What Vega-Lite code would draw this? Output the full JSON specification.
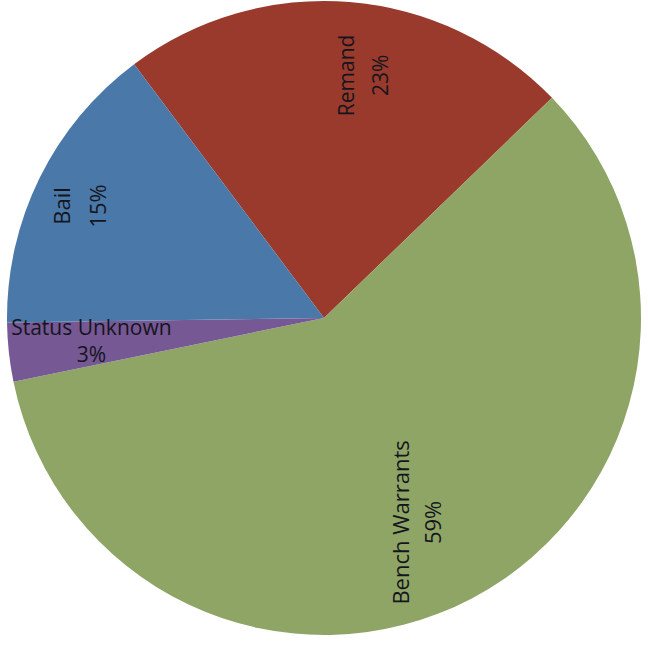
{
  "$schema": "https://vega.github.io/schema/vega-lite/v6.json",
  "width": 648,
  "height": 649,
  "autosize": {"type": "fit", "contains": "padding"},
  "padding": {"top": 0, "left": 0, "right": 0, "bottom": 13},
  "background": "#ffffff",
  "view": {"stroke": null},
  "data": {
    "values": [
      {"category": "Remand", "label": "Remand\n23%", "value": 23, "rank": 1},
      {"category": "Bench Warrants", "label": "Bench Warrants\n59%", "value": 59, "rank": 2},
      {"category": "Status Unknown", "label": "Status Unknown\n3%", "value": 3, "rank": 3},
      {"category": "Bail", "label": "Bail\n15%", "value": 15, "rank": 4}
    ]
  },
  "encoding": {
    "theta": {
      "field": "value",
      "type": "quantitative",
      "stack": true,
      "scale": {"range": [-0.6423, 5.6409]}
    },
    "order": {"field": "rank", "type": "quantitative", "sort": "ascending"}
  },
  "layer": [
    {
      "mark": {"type": "arc", "outerRadius": 317, "stroke": null},
      "encoding": {
        "color": {
          "field": "category",
          "type": "nominal",
          "scale": {
            "domain": ["Remand", "Bench Warrants", "Status Unknown", "Bail"],
            "range": ["#9a3a2c", "#8fa566", "#765894", "#4a78a8"]
          },
          "legend": null
        }
      }
    },
    {
      "mark": {"type": "text", "radius": 246, "thetaOffset": 0.087, "angle": 270, "dy": -17, "font": "Open Sans", "fontSize": 21, "lineBreak": "\n", "lineHeight": 34, "align": "center", "baseline": "middle", "color": "#15151d"},
      "encoding": {
        "text": {"condition": {"test": "datum.category == 'Remand'", "field": "label"}, "value": ""}
      }
    },
    {
      "mark": {"type": "text", "radius": 225, "thetaOffset": 0.054, "angle": 270, "dy": -16, "font": "Open Sans", "fontSize": 22, "lineBreak": "\n", "lineHeight": 32, "align": "center", "baseline": "middle", "color": "#15151d"},
      "encoding": {
        "text": {"condition": {"test": "datum.category == 'Bench Warrants'", "field": "label"}, "value": ""}
      }
    },
    {
      "mark": {"type": "text", "radius": 268, "thetaOffset": -0.026, "angle": 270, "dy": -18, "font": "Open Sans", "fontSize": 22, "lineBreak": "\n", "lineHeight": 36, "align": "center", "baseline": "middle", "color": "#15151d"},
      "encoding": {
        "text": {"condition": {"test": "datum.category == 'Bail'", "field": "label"}, "value": ""}
      }
    },
    {
      "mark": {"type": "text", "radius": 234, "angle": 0, "dy": -14, "font": "Open Sans", "fontSize": 21, "lineBreak": "\n", "lineHeight": 27, "align": "center", "baseline": "middle", "color": "#15151d"},
      "encoding": {
        "text": {"condition": {"test": "datum.category == 'Status Unknown'", "field": "label"}, "value": ""}
      }
    }
  ]
}
